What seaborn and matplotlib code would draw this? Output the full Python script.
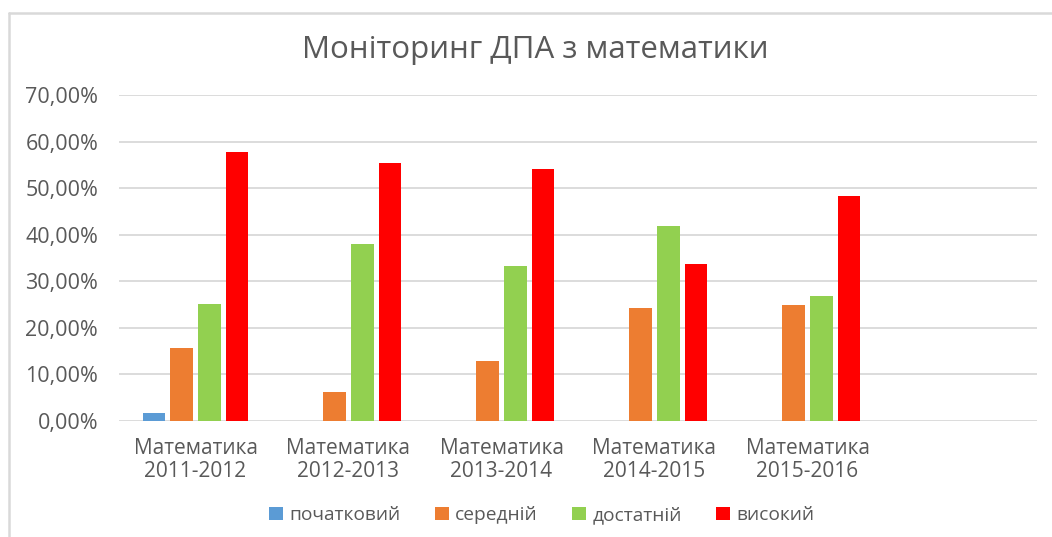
import matplotlib
matplotlib.use("Agg")
import matplotlib.pyplot as plt
import seaborn as sns
import pandas as pd
from matplotlib.patches import Patch
from matplotlib.lines import Line2D

# ---- data ----
categories = ["Математика\n2011-2012", "Математика\n2012-2013", "Математика\n2013-2014",
              "Математика\n2014-2015", "Математика\n2015-2016", ""]
levels = ["початковий", "середній", "достатній", "високий"]
pochatkovyi = [1.7, 0.0, 0.0, 0.0, 0.0]
serednii = [15.7, 6.2, 12.8, 24.2, 24.9]
dostatnii = [25.0, 38.0, 33.2, 41.9, 26.8]
vysokyi = [57.8, 55.5, 54.1, 33.8, 48.3]
yticks = [0, 10, 20, 30, 40, 50, 60, 70]
title = "Моніторинг ДПА з математики"
colors = ["#5B9BD5", "#ED7D31", "#92D050", "#FF0000"]

series = [pochatkovyi, serednii, dostatnii, vysokyi]
rows = []
for lvl, vals in zip(levels, series):
    for cat, v in zip(categories[:5], vals):
        rows.append({"cat": cat, "level": lvl, "value": v})
df = pd.DataFrame(rows)

sns.set_style("white")
plt.rcParams['font.family'] = ['Open Sans', 'DejaVu Sans']
text_color = "#595959"

fig = plt.figure(figsize=(10.52, 5.37), dpi=100)
ax = fig.add_axes([119 / 1052, 1 - 420.7 / 537, (1037 - 119) / 1052, (420.7 - 95.2) / 537])

sns.barplot(data=df, x="cat", y="value", hue="level", order=categories, hue_order=levels,
            palette=colors, saturation=1, width=0.724, gap=0.19, linewidth=0, ax=ax,
            legend=False, errorbar=None)

ax.set_xlim(-0.5, len(categories) - 0.5)
ax.set_ylim(0, 70)
ax.set_yticks(yticks)
ax.set_yticklabels([f"{v:.2f}%".replace(".", ",") for v in yticks])
ax.set_xlabel("")
ax.set_ylabel("")
ax.yaxis.grid(True, color="#D9D9D9", linewidth=1.3)
ax.xaxis.grid(False)
ax.set_axisbelow(True)
for s in ax.spines.values():
    s.set_visible(False)
ax.tick_params(axis="y", length=0, pad=15, labelsize=15.5, labelcolor=text_color)
ax.tick_params(axis="x", length=0, pad=12.5, labelsize=15, labelcolor=text_color)
for lbl in ax.get_xticklabels():
    lbl.set_linespacing(1.15)

fig.text(535 / 1052, 1 - 50 / 537, title, ha="center", va="center",
         fontsize=22.5, color=text_color)

handles = [Patch(facecolor=c, edgecolor="none", label=l) for c, l in zip(colors, levels)]
fig.legend(handles=handles, loc="center", bbox_to_anchor=(542 / 1052, 1 - 515 / 537),
           ncol=4, frameon=False, fontsize=13.8, labelcolor=text_color,
           handlelength=0.7, handleheight=0.7, handletextpad=0.35, columnspacing=1.8)

# chart border (partially visible)
border = "#D9D9D9"
fig.add_artist(Line2D([8.5 / 1052, 1.0], [1 - 12.5 / 537] * 2, transform=fig.transFigure,
                      color=border, linewidth=1.8))
fig.add_artist(Line2D([8.5 / 1052] * 2, [0.0, 1 - 12.5 / 537], transform=fig.transFigure,
                      color=border, linewidth=1.8))

fig.savefig("out.png", dpi=100)
